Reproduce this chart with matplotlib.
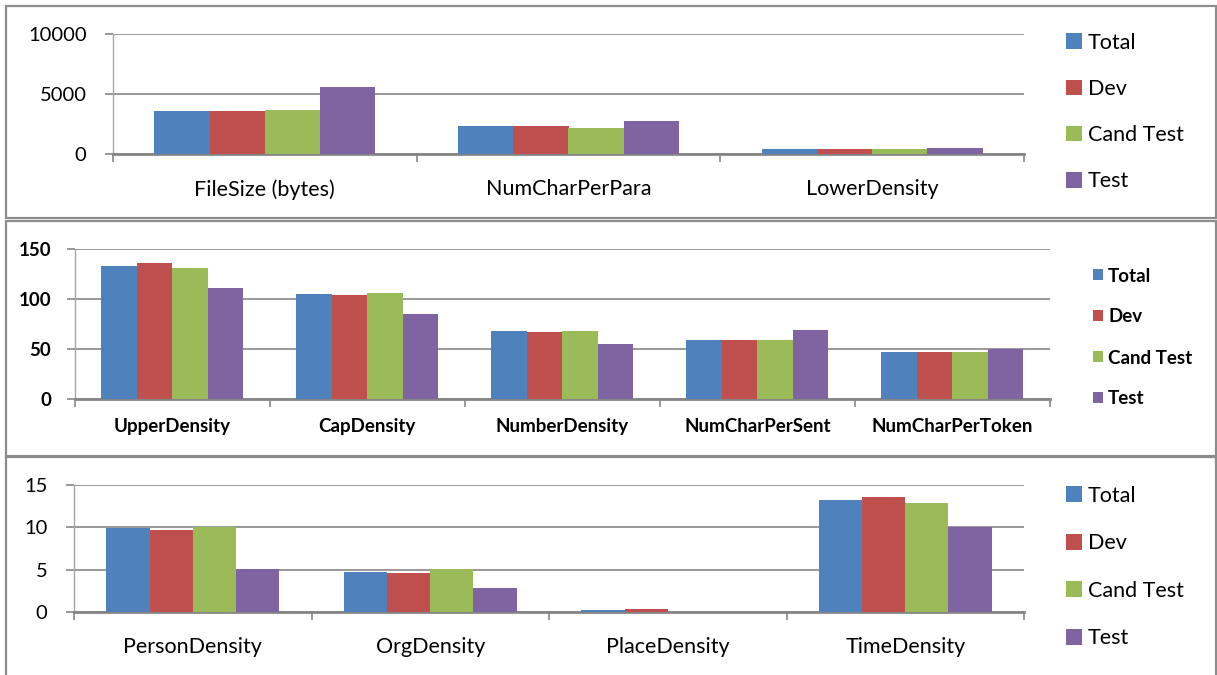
import matplotlib
matplotlib.use("Agg")
import matplotlib.pyplot as plt
from matplotlib.patches import Rectangle
from matplotlib.ticker import FixedLocator
import numpy as np

# ---------------- data ----------------
series_names = ["Total", "Dev", "Cand Test", "Test"]
colors = ["#4F81BD", "#C0504D", "#9BBB59", "#8064A2"]

p1_categories = ["FileSize (bytes)", "NumCharPerPara", "LowerDensity"]
p1_total = [3580, 2330, 420]
p1_dev = [3580, 2330, 420]
p1_cand = [3670, 2170, 420]
p1_test = [5580, 2750, 500]
p1_yticks = [0, 5000, 10000]

p2_categories = ["UpperDensity", "CapDensity", "NumberDensity", "NumCharPerSent", "NumCharPerToken"]
p2_total = [133, 105, 68, 59, 47]
p2_dev = [136, 104, 67, 59, 47]
p2_cand = [131, 106, 68, 59, 47]
p2_test = [111, 85, 55, 69, 49.7]
p2_yticks = [0, 50, 100, 150]

p3_categories = ["PersonDensity", "OrgDensity", "PlaceDensity", "TimeDensity"]
p3_total = [9.9, 4.72, 0.2, 13.27]
p3_dev = [9.69, 4.59, 0.33, 13.6]
p3_cand = [10.05, 5.05, 0.03, 12.9]
p3_test = [5.05, 2.89, 0.0, 10.0]
p3_yticks = [0, 5, 10, 15]

W, H = 1217, 675
fig = plt.figure(figsize=(W / 100, H / 100), dpi=100)
fig.patch.set_facecolor("white")

GRID = "#868686"
BORDER = "#8C8C8C"


def fx(px):
    return px / W


def fy(py):
    return 1 - py / H


def add_box(x0, y0, x1, y1):
    r = Rectangle((fx(x0), fy(y1)), fx(x1) - fx(x0), fy(y0) - fy(y1),
                  transform=fig.transFigure, fill=False, edgecolor=BORDER,
                  linewidth=1.6, zorder=0)
    fig.patches.append(r)


def panel(box, ax_px, cats, values, yticks, font, fsize_tick, fsize_cat,
          fsize_leg, weight, ypad, xpad, legend_xy, leg_sq, leg_spacing, leg_textpad):
    add_box(*box)
    l, t, r, b = ax_px
    ax = fig.add_axes([fx(l), fy(b), fx(r) - fx(l), fy(t) - fy(b)])
    n = len(cats)
    x = np.arange(n) + 0.5
    w = 0.182
    handles = []
    for i, (vals, c, name) in enumerate(zip(values, colors, series_names)):
        h = ax.bar(x + (i - 1.5) * w, vals, width=w, color=c, label=name,
                   linewidth=0, zorder=3)
        handles.append(h)
    ax.set_xlim(0, n)
    ax.set_ylim(yticks[0], yticks[-1])
    ax.set_yticks(yticks)
    ax.set_yticklabels([str(v) for v in yticks], fontfamily=font,
                       fontsize=fsize_tick, fontweight=weight, color="black")
    ax.yaxis.grid(True, color=GRID, linewidth=1.2, zorder=0)
    ax.set_axisbelow(True)
    ax.tick_params(axis="y", direction="out", length=6, width=1.2,
                   color=GRID, pad=ypad)
    ax.set_xticks(x)
    ax.set_xticklabels(cats, fontfamily=font, fontsize=fsize_cat,
                       fontweight=weight, color="black")
    ax.xaxis.set_minor_locator(FixedLocator(np.arange(n + 1)))
    ax.tick_params(axis="x", which="major", length=0, pad=xpad)
    ax.tick_params(axis="x", which="minor", direction="out", length=6,
                   width=1.2, color=GRID)
    for s in ["top", "right"]:
        ax.spines[s].set_visible(False)
    ax.spines["left"].set_color("#A6A6A6")
    ax.spines["left"].set_linewidth(1.0)
    ax.spines["bottom"].set_color(GRID)
    ax.spines["bottom"].set_linewidth(2.0)
    ax.set_facecolor("none")
    fs_px = fsize_leg * 100 / 72
    ax.legend(handles=handles, labels=series_names, loc="center left",
              bbox_to_anchor=(fx(legend_xy[0]), fy(legend_xy[1])),
              bbox_transform=fig.transFigure, frameon=False,
              borderpad=0, borderaxespad=0,
              handlelength=leg_sq / fs_px, handleheight=leg_sq / fs_px,
              handletextpad=leg_textpad / fs_px, labelspacing=leg_spacing,
              prop={"family": font, "size": fsize_leg, "weight": weight})
    return ax


panel((6, 6, 1216, 218), (113, 34, 1024, 154), p1_categories,
      [p1_total, p1_dev, p1_cand, p1_test], p1_yticks,
      "Lato", 14.5, 15.5, 15.5, "normal", 13, 18, (1066, 112), 16, 1.22, 6)

panel((6, 221, 1216, 456), (74.5, 249, 1050, 399), p2_categories,
      [p2_total, p2_dev, p2_cand, p2_test], p2_yticks,
      "Lato", 13.5, 13.5, 13.5, "bold", 11, 14, (1093, 337.5), 10, 1.28, 5)

panel((6, 457, 1216, 680), (74, 485, 1024, 612), p3_categories,
      [p3_total, p3_dev, p3_cand, p3_test], p3_yticks,
      "Lato", 14.5, 15.5, 15.5, "normal", 13, 18, (1066, 567), 16, 1.28, 6)

fig.savefig("out.png", dpi=100, facecolor="white")
